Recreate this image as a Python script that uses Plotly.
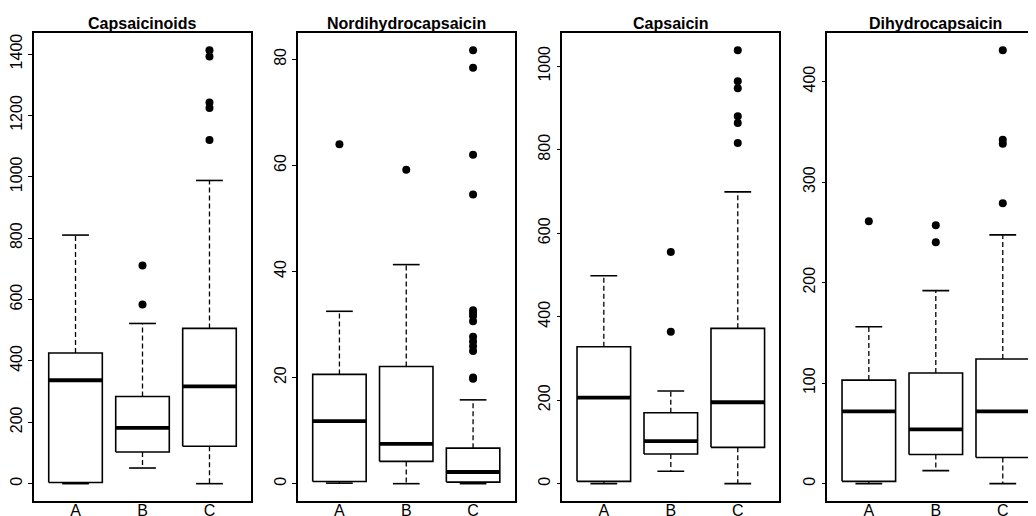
import plotly.graph_objects as go

groups = ["A", "B", "C"]
titles = ["Capsaicinoids", "Nordihydrocapsaicin", "Capsaicin", "Dihydrocapsaicin"]

# five-number summaries per group: [lower whisker, Q1, median, Q3, upper whisker]
capsaicinoids_stats = [[0, 4, 337, 426, 810], [51, 103, 182, 284, 522], [0, 122, 317, 506, 988]]
capsaicinoids_outliers = [[], [711, 584], [1412, 1392, 1242, 1224, 1120]]

nordihydro_stats = [[0.1, 0.4, 11.8, 20.6, 32.5], [0, 4.2, 7.5, 22.1, 41.3], [0, 0.3, 2.2, 6.7, 15.8]]
nordihydro_outliers = [[64.0], [59.2], [81.7, 78.4, 62.0, 54.5, 32.7, 32.2, 31.6, 30.6,
                                      27.7, 26.8, 25.9, 25.0, 20.0, 19.8]]

capsaicin_stats = [[0, 5.6, 206, 328, 498], [29.6, 71, 102, 170, 222], [0, 87, 195, 372, 699]]
capsaicin_outliers = [[], [555, 364], [1038, 964, 947, 880, 864, 816]]

dihydro_stats = [[0, 2.3, 72, 103, 156], [13, 29, 54, 110, 192], [0, 26, 72, 124, 247.5]]
dihydro_outliers = [[261], [257, 240], [431, 342, 338, 279]]

panels = [
    (capsaicinoids_stats, capsaicinoids_outliers, 200),
    (nordihydro_stats, nordihydro_outliers, 20),
    (capsaicin_stats, capsaicin_outliers, 200),
    (dihydro_stats, dihydro_outliers, 100),
]

# the page body has an 8px default margin; size the figure so it fits the window
OFF = 8
W, H = 1036 - OFF, 516 - OFF
ML, MR, MT, MB = 34 - OFF, 0, 33 - OFF, 15
PW = W - ML - MR
PH = H - MT - MB
# panel pixel extents (left, right) in window pixels
panel_px = [(34, 251), (298, 514.5), (562.3, 779.3), (827.3, 1044.3)]

BOXW = 0.4   # half box width
CAPW = 0.2   # half staple width

fig = go.Figure()
layout = {}
for p, (stats, outl, dt) in enumerate(panels):
    n = p + 1
    xa = "x" if n == 1 else f"x{n}"
    ya = "y" if n == 1 else f"y{n}"
    allv = [v for s in stats for v in s] + [v for o in outl for v in o]
    lo, hi = min(allv), max(allv)
    pad = 0.04 * (hi - lo)
    yr = [lo - pad, hi + pad]

    for i, g in enumerate(groups):
        x0 = i + 1
        lw, q1, md, q3, up = stats[i]
        # whiskers (dashed)
        fig.add_trace(go.Scatter(x=[x0, x0, None, x0, x0], y=[q3, up, None, q1, lw],
                                 mode="lines", line=dict(color="black", width=1.3, dash="5px,3px"),
                                 xaxis=xa, yaxis=ya, hoverinfo="skip"))
        # staples
        fig.add_trace(go.Scatter(x=[x0 - CAPW, x0 + CAPW, None, x0 - CAPW, x0 + CAPW],
                                 y=[up, up, None, lw, lw], mode="lines",
                                 line=dict(color="black", width=1.6),
                                 xaxis=xa, yaxis=ya, hoverinfo="skip"))
        # box
        fig.add_trace(go.Scatter(x=[x0 - BOXW, x0 + BOXW, x0 + BOXW, x0 - BOXW, x0 - BOXW],
                                 y=[q1, q1, q3, q3, q1], mode="lines",
                                 fill="toself", fillcolor="white",
                                 line=dict(color="black", width=1.6),
                                 xaxis=xa, yaxis=ya, hoverinfo="skip"))
        # median
        fig.add_trace(go.Scatter(x=[x0 - BOXW, x0 + BOXW], y=[md, md], mode="lines",
                                 line=dict(color="black", width=3.8),
                                 xaxis=xa, yaxis=ya, hoverinfo="skip"))
        # outliers
        if outl[i]:
            fig.add_trace(go.Scatter(x=[x0] * len(outl[i]), y=outl[i], mode="markers",
                                     marker=dict(color="black", size=8),
                                     xaxis=xa, yaxis=ya, hoverinfo="skip"))

    l, r = panel_px[p]
    l -= OFF
    r -= OFF
    d0 = (l - ML) / PW
    d1 = min(1.0, (r - ML) / PW)
    unit = (r - l) / 3.24
    xmax = 0.38 + (min(r, W - MR) - l) / unit
    layout["xaxis" if n == 1 else f"xaxis{n}"] = dict(
        domain=[d0, d1], anchor=ya, range=[0.38, xmax],
        tickvals=[1, 2, 3], ticktext=groups, ticks="", ticklabelstandoff=-6,
        showline=True, mirror=True, linecolor="black", linewidth=1.6,
        showgrid=False, zeroline=False, automargin=False,
        tickfont=dict(family="Liberation Sans", size=16, color="black"))
    layout["yaxis" if n == 1 else f"yaxis{n}"] = dict(
        domain=[0, 1], anchor=xa, range=yr, dtick=dt, tick0=0,
        ticks="outside", ticklen=4, tickwidth=1, tickcolor="black",
        tickangle=-90, showline=True, mirror=(n != 4), linecolor="black", linewidth=1.6,
        showgrid=False, zeroline=False, automargin=False,
        tickfont=dict(family="Liberation Sans", size=16, color="black"))

    cx = ((l + r) / 2 - ML) / PW
    fig.add_annotation(text="<b>" + titles[p] + "</b>", x=cx, y=(H - MB - (23 - OFF)) / PH,
                       xref="paper", yref="paper", xanchor="center", yanchor="middle",
                       showarrow=False, font=dict(family="Liberation Sans", size=16, color="black"))

fig.update_layout(width=W, height=H, margin=dict(l=ML, r=MR, t=MT, b=MB, autoexpand=False),
                  plot_bgcolor="white", paper_bgcolor="white", showlegend=False,
                  hovermode=False, font=dict(family="Liberation Sans", color="black"),
                  **layout)

fig.write_html("out.html")
